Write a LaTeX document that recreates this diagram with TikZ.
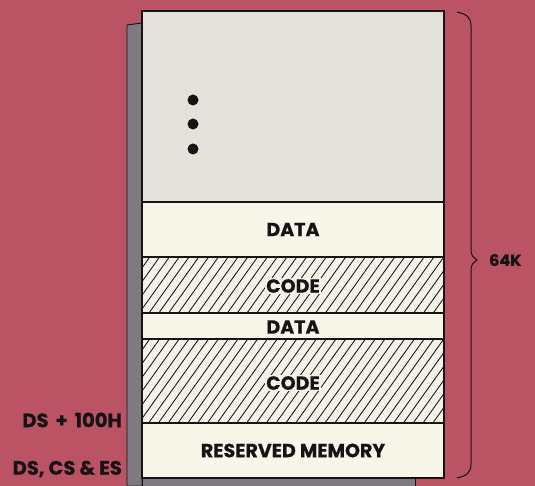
\documentclass[tikz,border=0pt]{standalone}
\usepackage{fontspec}
\setmainfont{Poppins}[BoldFeatures={FakeBold=0.6}]
\usetikzlibrary{positioning}
\definecolor{bgred}{HTML}{BA5363}
\definecolor{shadowgray}{HTML}{7F7981}
\definecolor{topgray}{HTML}{E3E2DB}
\definecolor{cream}{HTML}{F7F6E9}
\definecolor{hatchbg}{HTML}{F4F3EA}
\definecolor{ink}{HTML}{151313}
\begin{document}
\begin{tikzpicture}[x=1pt,y=-1pt,
  band/.style={draw=ink, line width=1.1pt, minimum width=302pt, inner sep=0pt, outer sep=0pt, anchor=north west},
  lbl/.style={font=\bfseries\fontsize{19}{20}\selectfont, text=ink, inner sep=1pt},
  sidelbl/.style={font=\bfseries\fontsize{19.5}{21}\selectfont, text=ink, anchor=east, inner sep=0pt},
  dotmark/.style={circle, fill=ink, minimum size=11pt, inner sep=0pt},
  hatchline/.style={ink, line width=0.85pt}]
\fill[bgred] (0,0) rectangle (535,486);
\useasboundingbox (0,0) rectangle (535,486);
% shadow
\filldraw[fill=shadowgray, draw=ink, line width=0.9pt] (127,25) -- (142,23) -- (142,486) -- (127,486) -- cycle;
\filldraw[fill=shadowgray, draw=ink, line width=0.9pt] (142,478) rectangle (415,490);
% bands
\node[band, fill=topgray, minimum height=191pt] (free) at (142,11) {};
\node[band, fill=cream, minimum height=55pt] (data1) at (142,202) {};
\node[band, fill=hatchbg, minimum height=56pt] (code1) at (142,257) {};
\node[band, fill=cream, minimum height=26pt] (data2) at (142,313) {};
\node[band, fill=hatchbg, minimum height=84pt] (code2) at (142,339) {};
\node[band, fill=cream, minimum height=55pt] (res) at (142,423) {};
% hatching
\begin{scope}
  \clip (142,257) rectangle (444,313);
  \foreach \i in {0,...,40} { \draw[hatchline] (100+\i*9.8,313) -- (140+\i*9.8,257); }
\end{scope}
\begin{scope}
  \clip (142,339) rectangle (444,423);
  \foreach \i in {0,...,45} { \draw[hatchline] (80+\i*9.8,423) -- (140+\i*9.8,339); }
\end{scope}
% redraw borders on top
\foreach \n in {free,data1,code1,data2,code2,res} { \draw[ink, line width=1.1pt] (\n.north west) rectangle (\n.south east); }
% labels
\node[lbl, fill=cream] (tdata1) at (data1.center) {DATA};
\node[lbl, fill=hatchbg] (tcode1) at ([yshift=-1pt]code1.center) {CODE};
\node[lbl] (tdata2) at ([yshift=-1pt]data2.center) {DATA};
\node[lbl, fill=hatchbg] (tcode2) at ([yshift=-2pt]code2.center) {CODE};
\node[lbl] (tres) at (res.center) {RESERVED MEMORY};
% dots
\node[dotmark] (d1) at (193,100) {};
\node[dotmark] (d2) at (193,124) {};
\node[dotmark] (d3) at (193,149) {};
% side labels
\node[sidelbl] (ds100) at (122,420) {DS\hspace{7pt}+\hspace{7pt}100H};
\node[sidelbl] (dscses) at (122,469) {DS, CS \& ES};
% brace
\coordinate (bt) at (457,12);
\coordinate (bb) at (457,478);
\coordinate (tip) at (477,260);
\draw[ink, line width=1pt] (bt) .. controls (466,14) and (471,17) .. (471,26) -- (471,250) .. controls (471,256) and (474,258) .. (tip) .. controls (474,262) and (471,264) .. (471,270) -- (471,464) .. controls (471,473) and (466,476) .. (bb);
\node[font=\bfseries\fontsize{16}{17}\selectfont, text=ink, anchor=west, inner sep=0pt] (k64) at (489,260) {64K};
\end{tikzpicture}
\end{document}
